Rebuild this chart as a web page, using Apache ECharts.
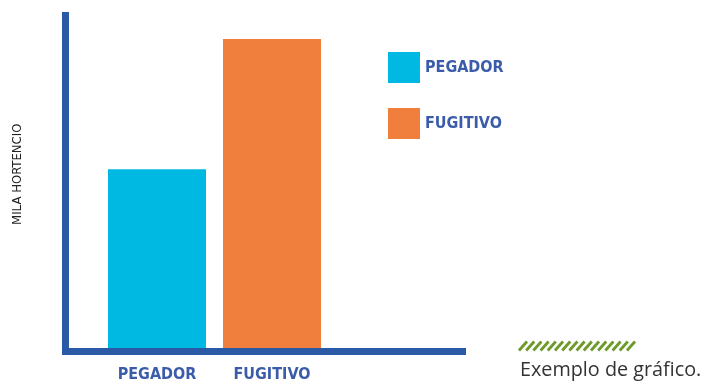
<!DOCTYPE html>
<html>
<head>
<meta charset="utf-8">
<script src="https://cdn.jsdelivr.net/npm/echarts@6/dist/echarts.min.js"></script>
<style>html,body{margin:0;padding:0;background:#fff}#c{width:704px;height:383px}</style>
</head>
<body>
<div id="c"></div>
<script>
const categories = ["PEGADOR", "FUGITIVO"];
const seriesNames = ["PEGADOR", "FUGITIVO"];
const pegadorValues = [54, "-"];
const fugitivoValues = ["-", 93];
const yAxisTitle = "MILA HORTENCIO";
const footerText = "Exemplo de gráfico.";

const AXIS_BLUE = "#2a5aa6";
const LABEL_BLUE = "#3a5ca9";
const NARROW = "'DejaVu Sans Condensed', 'Liberation Sans', sans-serif";

const chart = echarts.init(document.getElementById('c'), null, {renderer: 'canvas'});

const hatch = [];
for (let i = 0; i < 16; i++) {
  const x = 519 + i * 7.2;
  hatch.push({type: 'line', shape: {x1: x, y1: 350.5, x2: x + 8, y2: 341.5},
    style: {stroke: '#6e9a2a', lineWidth: 2.8}});
}

chart.setOption({
  animation: false,
  grid: [
    {left: 65.5, right: 241.5, top: 15.5, bottom: 32},
    {left: 99.5, width: 230, top: 15.5, bottom: 32}
  ],
  legend: {
    orient: 'vertical', left: 383, top: 47, itemWidth: 32, itemHeight: 31, itemGap: 25,
    icon: 'rect', data: seriesNames,
    textStyle: {color: LABEL_BLUE, fontFamily: NARROW, fontSize: 16, fontWeight: 'bold', padding: [0, 0, 0, 0]}
  },
  title: {
    text: footerText, left: 515, top: 355,
    textStyle: {fontFamily: "'Open Sans', sans-serif", fontSize: 19.8, fontWeight: 'normal', color: '#333'}
  },
  xAxis: [
    {gridIndex: 0, type: 'category', data: [''], axisTick: {show: false}, axisLabel: {show: false},
     axisLine: {lineStyle: {color: AXIS_BLUE, width: 7, cap: 'square'}}, z: 10},
    {gridIndex: 1, type: 'category', data: categories, axisTick: {show: false},
     axisLine: {show: false},
     axisLabel: {interval: 0, margin: 17, color: LABEL_BLUE, fontFamily: NARROW, fontSize: 16, fontWeight: 'bold'}}
  ],
  yAxis: [
    {gridIndex: 0, type: 'value', min: 0, max: 100, splitLine: {show: false}, axisLabel: {show: false},
     axisTick: {show: false}, axisLine: {show: true, lineStyle: {color: AXIS_BLUE, width: 7, cap: 'square'}}, z: 10,
     name: yAxisTitle, nameLocation: 'middle', nameGap: 41, nameRotate: 90,
     nameTextStyle: {fontFamily: NARROW, fontSize: 13, color: '#222', padding: [0, 0, 0, 18]}},
    {gridIndex: 1, type: 'value', min: 0, max: 100, show: false}
  ],
  series: [
    {name: seriesNames[0], type: 'bar', xAxisIndex: 1, yAxisIndex: 1, stack: 's', barWidth: 98,
     itemStyle: {color: '#00b9e3'}, data: pegadorValues},
    {name: seriesNames[1], type: 'bar', xAxisIndex: 1, yAxisIndex: 1, stack: 's', barWidth: 98,
     itemStyle: {color: '#f07f3e'}, data: fugitivoValues}
  ],
  graphic: hatch
});
</script>
</body>
</html>
